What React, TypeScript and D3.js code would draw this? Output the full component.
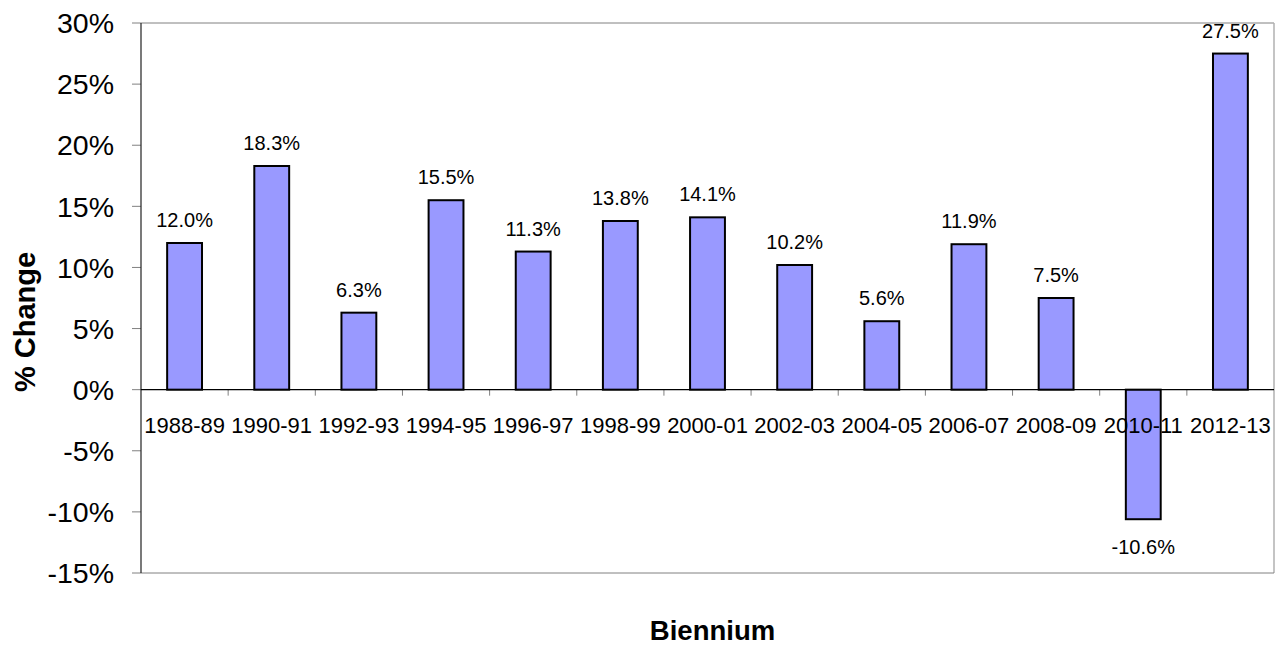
import React from "react";
import * as d3 from "d3";

const categories = ["1988-89","1990-91","1992-93","1994-95","1996-97","1998-99","2000-01","2002-03","2004-05","2006-07","2008-09","2010-11","2012-13"];
const values = [12.0, 18.3, 6.3, 15.5, 11.3, 13.8, 14.1, 10.2, 5.6, 11.9, 7.5, -10.6, 27.5];
const yTicks = [-15, -10, -5, 0, 5, 10, 15, 20, 25, 30];

const W = 1279, H = 646;
const left = 141, right = 1274, top = 23, bottom = 573;
const FONT = "'Liberation Sans', Arial, Helvetica, sans-serif";

export default function App() {
  const x = d3.scaleBand<string>().domain(categories).range([left, right]).paddingInner(0).paddingOuter(0);
  const y = d3.scaleLinear().domain([-15, 30]).range([bottom, top]);
  const bw = x.bandwidth() * 0.4;
  const y0 = y(0);
  return (
    <svg width={W} height={H} style={{ position: "absolute", left: 0, top: 0, background: "#fff" }} fontFamily={FONT}>
      {/* plot frame */}
      <line x1={left} x2={right} y1={top} y2={top} stroke="#808080" strokeWidth={1} />
      <line x1={right} x2={right} y1={top} y2={bottom} stroke="#b0b0b0" strokeWidth={1.5} />
      <line x1={left} x2={right} y1={bottom} y2={bottom} stroke="#808080" strokeWidth={1} />
      {/* y ticks & labels */}
      {yTicks.map(t => (
        <g key={t}>
          <line x1={left - 9} x2={left} y1={y(t)} y2={y(t)} stroke="#808080" strokeWidth={1} />
          <text x={114} y={y(t)} dy="0.36em" textAnchor="end" fontSize={28.5} fill="#000">{t}%</text>
        </g>
      ))}
      {/* x ticks */}
      {categories.map((c, i) => i > 0 ? (
        <line key={c} x1={x(c)!} x2={x(c)!} y1={y0} y2={y0 + 6} stroke="#808080" strokeWidth={1} />
      ) : null)}
      {/* bars */}
      {values.map((v, i) => {
        const cx = x(categories[i])! + x.bandwidth() / 2;
        return (
          <rect key={i} x={cx - bw / 2} y={Math.min(y(v), y0)} width={bw} height={Math.abs(y(v) - y0)}
            fill="#9999ff" stroke="#000" strokeWidth={2} />
        );
      })}
      {/* axes lines */}
      <line x1={left} x2={left} y1={top} y2={bottom} stroke="#202020" strokeWidth={1.2} />
      <line x1={left} x2={right} y1={y0} y2={y0} stroke="#000" strokeWidth={1.2} />
      {/* category labels */}
      {categories.map(c => (
        <text key={c} x={x(c)! + x.bandwidth() / 2} y={433} textAnchor="middle" fontSize={22} fill="#000">{c}</text>
      ))}
      {/* value labels */}
      {values.map((v, i) => {
        const cx = x(categories[i])! + x.bandwidth() / 2;
        const ly = v >= 0 ? y(v) - 16 : y(v) + 35;
        return (
          <text key={i} x={cx} y={ly} textAnchor="middle" fontSize={20} fill="#000">{v.toFixed(1)}%</text>
        );
      })}
      {/* axis titles */}
      <text x={(left + right) / 2 + 5} y={640} textAnchor="middle" fontSize={27.5} fontWeight="bold" fill="#000">Biennium</text>
      <text transform={`translate(35, ${(top + bottom) / 2 + 24}) rotate(-90)`} textAnchor="middle" fontSize={29} fontWeight="bold" fill="#000">% Change</text>
    </svg>
  );
}
